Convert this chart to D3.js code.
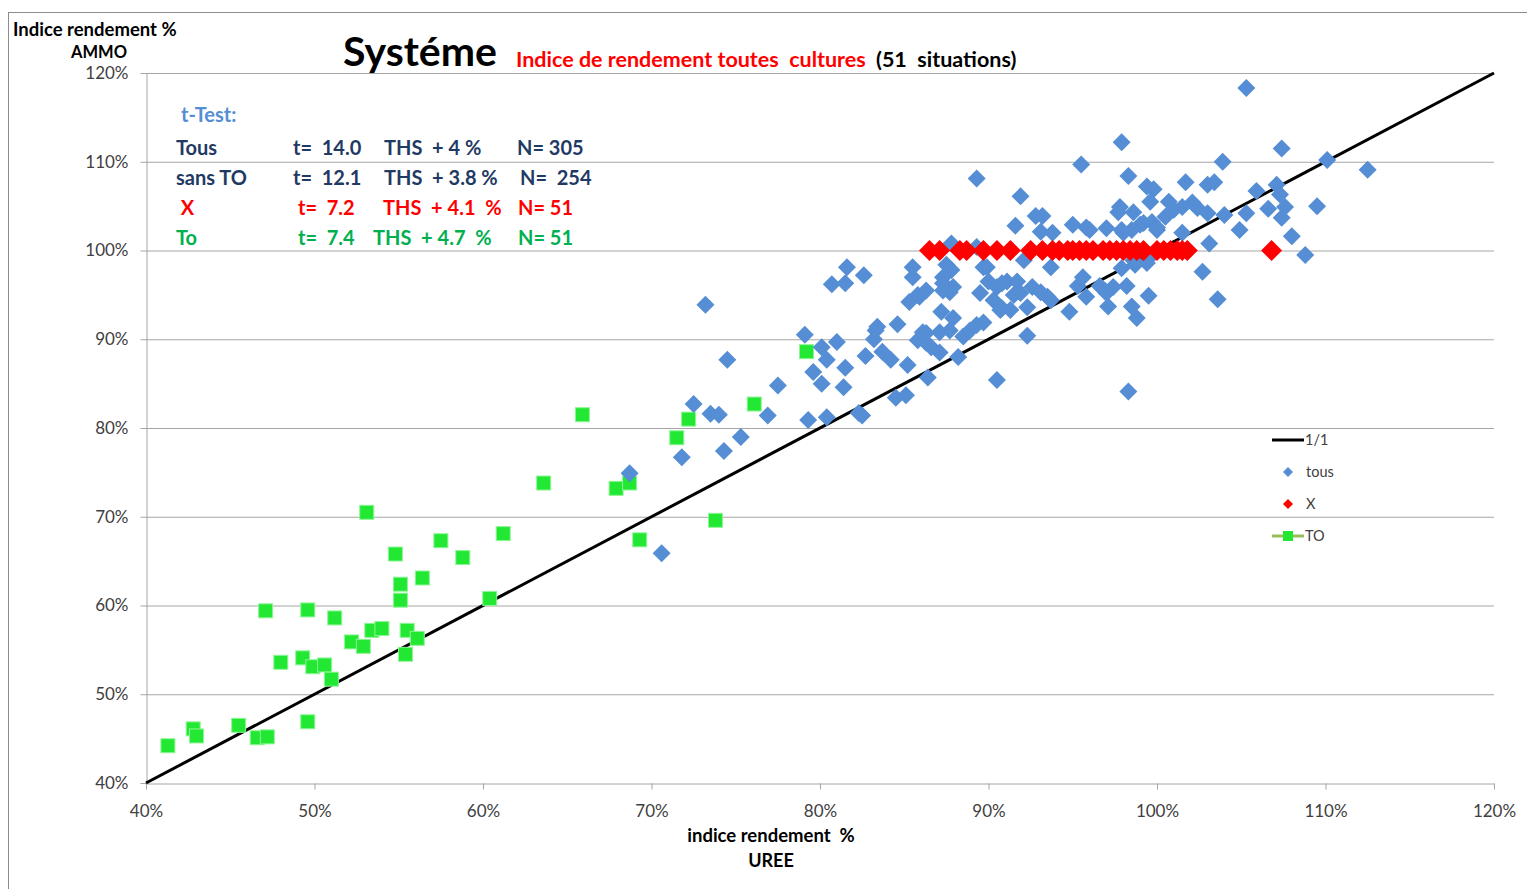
<!DOCTYPE html>
<meta charset="utf-8">
<style>
    body { margin: 0; background: #fff; }
    text { font-family: Lato, "Open Sans", sans-serif; }
    .axis text { font-size: 17px; fill: #404040; }
    .axis path, .axis line { stroke: #a6a6a6; }
    .grid line { stroke: #a6a6a6; stroke-width: 1px; }
</style>
<body>
<script src="https://cdn.jsdelivr.net/npm/d3@7"></script>
<script>

// axis ticks (percent)
var ticks = [40, 50, 60, 70, 80, 90, 100, 110, 120];

// series "tous" : [UREE %, AMMO %]
var tousPts = [
  [70.6,65.9],[68.7,74.9],[71.8,76.7],[73.2,93.9],[74.5,87.7],[72.5,82.7],[73.5,81.6],[74.0,81.5],
  [74.3,77.4],[75.3,79.0],[76.9,81.4],[77.5,84.8],[79.1,90.5],[79.3,80.9],[79.6,86.3],[80.1,89.1],
  [80.4,87.7],[80.1,85.0],[80.4,81.2],[81.0,89.7],[81.4,84.6],[81.5,86.8],[82.5,81.4],[82.3,81.7],
  [82.7,88.1],[83.3,91.0],[83.2,90.0],[83.7,88.6],[84.2,87.7],[84.5,83.4],[85.1,83.7],[84.6,91.7],
  [85.2,87.1],[85.3,94.2],[85.8,89.9],[85.9,94.8],[86.3,90.7],[89.3,108.1],[91.9,106.1],[95.5,109.7],
  [97.9,112.2],[105.3,118.3],[98.3,108.4],[103.9,110.0],[107.4,111.5],[110.1,110.2],[112.5,109.1],
  [101.7,107.7],[99.4,107.2],[99.8,106.9],[103.0,107.4],[103.4,107.7],[105.9,106.7],[107.1,107.4],
  [107.3,106.3],[99.6,105.5],[100.7,105.5],[97.7,104.3],[98.6,104.3],[101.5,104.9],[102.1,105.4],
  [102.4,104.8],[103.0,104.2],[104.0,104.0],[105.3,104.2],[106.6,104.7],[107.6,104.9],[107.4,103.7],
  [109.5,105.0],[97.0,102.5],[104.9,102.3],[108.0,101.6],[103.1,100.8],[108.8,99.5],[97.9,98.0],
  [98.7,98.4],[99.4,98.6],[102.7,97.6],[98.2,96.0],[96.9,95.5],[97.4,95.9],[99.5,94.9],[103.6,94.5],
  [97.1,93.7],[98.5,93.7],[98.8,92.4],[98.3,84.1],[97.8,104.9],[101.0,104.6],[92.8,103.9],[93.2,103.9],
  [91.6,102.8],[95.0,102.9],[95.8,102.6],[96.0,102.3],[97.9,102.3],[98.5,102.3],[99.0,102.9],
  [100.0,102.3],[100.5,103.8],[101.5,102.0],[93.1,102.1],[93.8,102.0],[98.0,102.0],[99.2,103.1],
  [99.7,103.2],[100.0,102.6],[87.8,100.8],[81.6,98.1],[80.7,96.2],[81.5,96.3],[82.6,97.2],[85.5,98.1],
  [85.5,97.0],[87.5,98.4],[87.3,97.0],[87.8,97.8],[87.9,95.9],[87.3,95.5],[85.8,95.0],[86.3,95.5],
  [87.2,93.1],[87.9,92.4],[83.4,91.4],[89.5,95.2],[89.9,98.1],[90.0,96.5],[90.3,94.4],[90.7,93.3],
  [91.3,93.3],[91.1,96.5],[91.7,96.5],[91.9,95.2],[92.6,95.9],[93.1,95.3],[93.7,98.1],[92.3,93.6],
  [93.5,94.8],[94.8,93.1],[95.3,96.0],[95.6,97.0],[95.8,94.8],[96.6,96.0],[97.0,95.2],[98.6,98.9],
  [99.8,99.7],[89.7,98.1],[93.7,94.4],[91.5,95.0],[90.8,96.3],[90.5,95.9],[90.8,93.5],[89.7,91.9],
  [89.3,91.6],[88.9,91.0],[88.5,90.3],[87.7,91.0],[87.1,90.8],[87.7,95.3],[87.3,96.3],[86.1,90.8],
  [86.3,89.6],[86.6,89.1],[87.1,88.5],[88.2,88.0],[86.4,85.7],[92.3,90.4],[90.5,85.4],[92.1,98.9],
  [89.3,100.4]
];

// series "X" (all at 100 % AMMO)
var xSeriesX = [86.5,87.1,88.3,88.7,89.7,90.5,91.3,92.5,93.2,93.8,94.2,94.7,95.0,95.4,95.8,96.2,
  96.8,97.2,97.6,98.0,98.4,98.8,99.2,100.0,100.4,100.8,101.2,101.5,101.8,106.8];
var xSeriesY = 100;

// series "TO"
var toPts = [
  [41.3,44.2],[42.8,46.1],[43.0,45.3],[45.5,46.5],[46.6,45.1],[47.2,45.2],[47.1,59.4],[48.0,53.6],
  [49.3,54.1],[49.6,59.5],[49.6,46.9],[49.9,53.1],[50.6,53.3],[51.0,51.7],[51.2,58.6],[52.2,55.9],
  [52.9,55.4],[53.1,70.5],[53.4,57.2],[54.0,57.4],[54.8,65.8],[55.1,62.4],[55.1,60.6],[55.4,54.5],
  [55.5,57.2],[56.1,56.3],[56.4,63.1],[57.5,67.3],[58.8,65.4],[60.4,60.8],[61.2,68.1],[63.6,73.8],
  [65.9,81.5],[67.9,73.2],[68.7,73.8],[69.3,67.4],[71.5,78.9],[72.2,81.0],[73.8,69.6],[76.1,82.7],
  [79.2,88.6]
];

// t-test table rows
var statRows = [
  {label: "Tous",     t: "t=  14.0", ths: "THS  + 4 %",    n: "N= 305",  color: "#1f3a63"},
  {label: "sans TO",  t: "t=  12.1", ths: "THS  + 3.8 %",  n: "N=  254", color: "#1f3a63"},
  {label: " X",       t: "t=  7.2",  ths: "THS  + 4.1  %", n: "N= 51",   color: "#ff0000"},
  {label: "To",       t: "t=  7.4",  ths: "THS  + 4.7  %", n: "N= 51",   color: "#00b050"}
];
var statCols = [[176, 293, 384, 517], [176, 293, 384, 520], [176, 298, 383, 518], [176, 298, 373, 518]];

var W = 1527, H = 889;
var plot = {left: 146, right: 1494, top: 73, bottom: 783};

var svg = d3.select("body").append("svg")
    .attr("width", W)
    .attr("height", H);

// outer chart frame
svg.append("rect")
    .attr("x", 8.5).attr("y", 12.5)
    .attr("width", W + 20).attr("height", H + 20)
    .attr("fill", "none").attr("stroke", "#8c8c8c");

var x = d3.scaleLinear().domain([40, 120]).range([plot.left, plot.right]);
var y = d3.scaleLinear().domain([40, 120]).range([plot.bottom, plot.top]);

// gridlines
svg.append("g").attr("class", "grid")
  .selectAll("line")
  .data(ticks.slice(1))
  .enter().append("line")
    .attr("x1", plot.left).attr("x2", plot.right)
    .attr("y1", function (d) { return y(d) + 0.5; })
    .attr("y2", function (d) { return y(d) + 0.5; });

// axes
svg.append("g")
    .attr("class", "axis")
    .attr("transform", "translate(0," + (plot.bottom + 0.5) + ")")
    .call(d3.axisBottom(x).tickValues(ticks).tickFormat(function (d) { return d + "%"; })
        .tickSizeInner(6).tickSizeOuter(0).tickPadding(15));

svg.append("g")
    .attr("class", "axis")
    .attr("transform", "translate(" + (plot.left + 0.5) + ",0)")
    .call(d3.axisLeft(y).tickValues(ticks).tickFormat(function (d) { return d + "%"; })
        .tickSizeInner(6).tickSizeOuter(0).tickPadding(12));

svg.selectAll(".axis path").attr("stroke", "#bfbfbf");

// 1/1 line
var line = d3.line()
    .x(function (d) { return x(d); })
    .y(function (d) { return y(d); });
svg.append("path")
    .datum([40, 120])
    .attr("d", line)
    .attr("fill", "none")
    .attr("stroke", "#000")
    .attr("stroke-width", 3);

function diamond(r) {
    return "M0," + (-r) + "L" + r + ",0L0," + r + "L" + (-r) + ",0Z";
}

// TO squares
svg.append("g").selectAll("rect")
    .data(toPts)
    .enter().append("rect")
    .attr("x", function (d) { return x(d[0]) - 7; })
    .attr("y", function (d) { return y(d[1]) - 7; })
    .attr("width", 14).attr("height", 14)
    .attr("fill", "#22e833")
    .attr("stroke", "#8ef596").attr("stroke-width", 1);

// tous diamonds
svg.append("g").selectAll("path")
    .data(tousPts)
    .enter().append("path")
    .attr("transform", function (d) { return "translate(" + x(d[0]) + "," + y(d[1]) + ")"; })
    .attr("d", diamond(9))
    .attr("fill", "#558ed5");

// X diamonds
svg.append("g").selectAll("path")
    .data(xSeriesX)
    .enter().append("path")
    .attr("transform", function (d) { return "translate(" + x(d) + "," + y(xSeriesY) + ")"; })
    .attr("d", diamond(10.5))
    .attr("fill", "#ff0000");

// titles
svg.append("text").attr("x", 343).attr("y", 66)
    .style("font-size", "41px").style("font-weight", "bold").attr("fill", "#000")
    .text("Systéme");
svg.append("text").attr("x", 516).attr("y", 67)
    .style("font-size", "21.5px").style("font-weight", "bold").attr("fill", "#ff0000")
    .attr("xml:space", "preserve")
    .text("Indice de rendement toutes  cultures");
svg.append("text").attr("x", 876).attr("y", 67)
    .style("font-size", "21.5px").style("font-weight", "bold").attr("fill", "#000")
    .attr("xml:space", "preserve")
    .text("(51  situations)");

// axis titles
svg.append("text").attr("x", 13).attr("y", 36)
    .style("font-size", "18.5px").style("font-weight", "bold").attr("fill", "#000")
    .text("Indice rendement %");
svg.append("text").attr("x", 127).attr("y", 58)
    .attr("text-anchor", "end")
    .style("font-size", "16.5px").style("font-weight", "bold").attr("fill", "#000")
    .text("AMMO");
svg.append("text").attr("x", 771).attr("y", 842)
    .attr("text-anchor", "middle").attr("xml:space", "preserve")
    .style("font-size", "18.5px").style("font-weight", "bold").attr("fill", "#000")
    .text("indice rendement  %");
svg.append("text").attr("x", 771).attr("y", 867)
    .attr("text-anchor", "middle")
    .style("font-size", "18px").style("font-weight", "bold").attr("fill", "#000")
    .text("UREE");

// t-test block
svg.append("text").attr("x", 181).attr("y", 122)
    .style("font-size", "20px").style("font-weight", "bold").attr("fill", "#558ed5")
    .text("t-Test:");
statRows.forEach(function (r, i) {
    var vals = [r.label, r.t, r.ths, r.n];
    vals.forEach(function (v, j) {
        svg.append("text")
            .attr("x", statCols[i][j])
            .attr("y", 155 + i * 30)
            .attr("xml:space", "preserve")
            .style("font-size", "20px").style("font-weight", "bold")
            .attr("fill", r.color)
            .text(v);
    });
});

// legend
var legend = svg.append("g").attr("transform", "translate(1272,440)");
legend.append("line").attr("x1", 0).attr("x2", 32).attr("y1", 0).attr("y2", 0)
    .attr("stroke", "#000").attr("stroke-width", 3);
legend.append("path").attr("transform", "translate(16,32)").attr("d", diamond(5)).attr("fill", "#558ed5");
legend.append("path").attr("transform", "translate(16,64)").attr("d", diamond(5)).attr("fill", "#ff0000");
legend.append("line").attr("x1", 0).attr("x2", 32).attr("y1", 96).attr("y2", 96)
    .attr("stroke", "#9bbb59").attr("stroke-width", 3);
legend.append("rect").attr("x", 11).attr("y", 91).attr("width", 10).attr("height", 10)
    .attr("fill", "#22e833");
var legLabels = ["1/1", "tous", "X", "TO"];
legend.selectAll("text.lab")
    .data(legLabels)
    .enter().append("text")
    .attr("class", "lab")
    .attr("x", function (d, i) { return i === 0 || i === 3 ? 33 : 34; })
    .attr("y", function (d, i) { return i * 32 + 5; })
    .style("font-size", "14.5px").attr("fill", "#404040")
    .text(function (d) { return d; });

</script>
</body>
